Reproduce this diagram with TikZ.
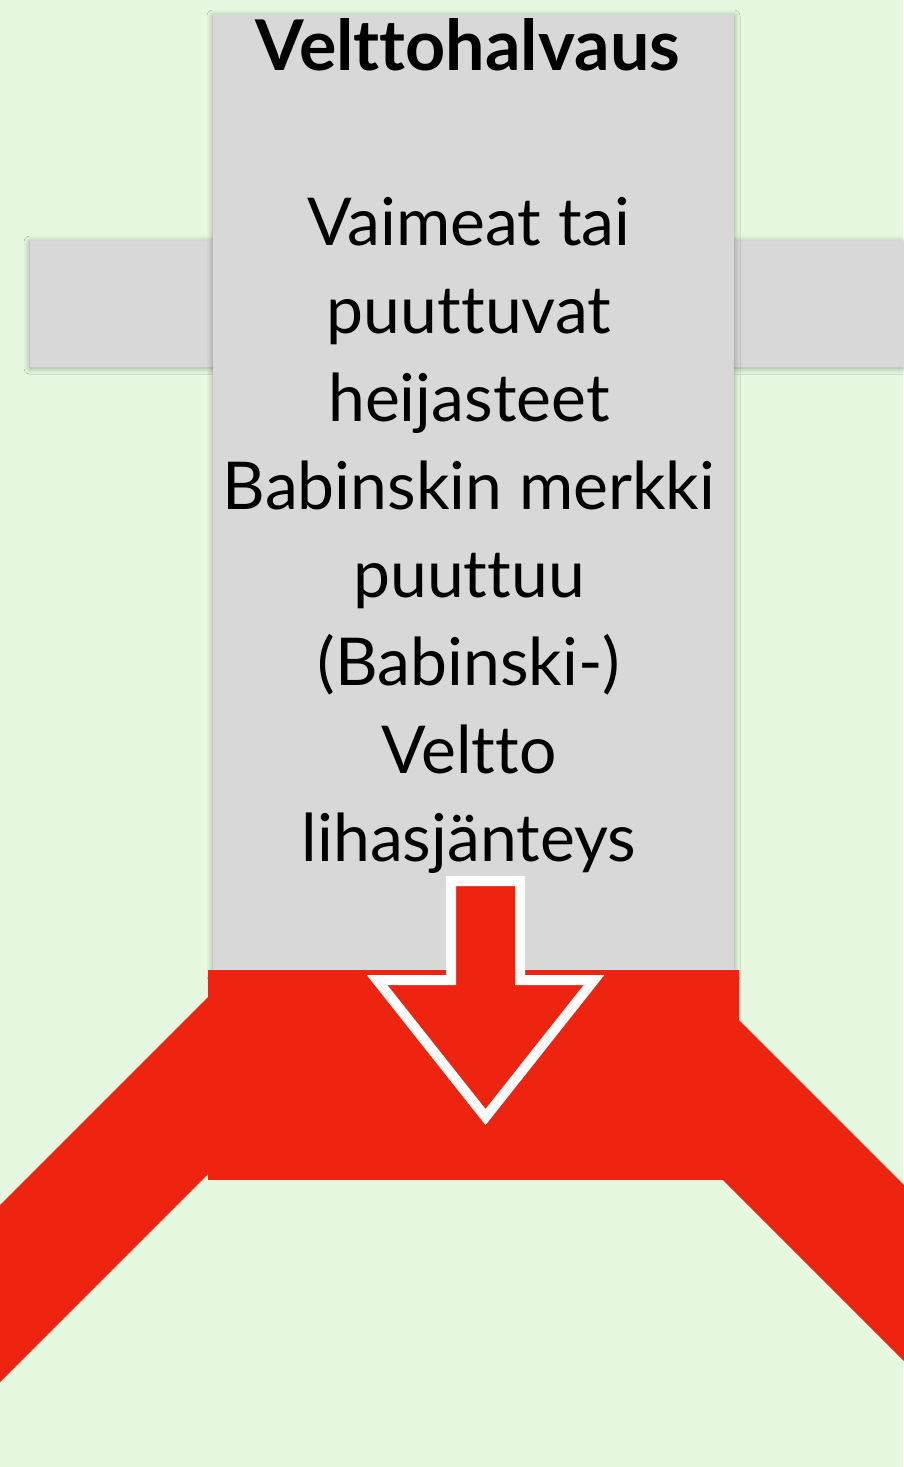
\documentclass[tikz,border=0pt]{standalone}
\usepackage{fontspec}
\setmainfont{Lato}[Ligatures=NoCommon]
\usetikzlibrary{shadows.blur}
\definecolor{bgGreen}{HTML}{E6F8E0}
\definecolor{boxGray}{HTML}{D8D8D8}
\definecolor{alarmRed}{HTML}{EF2410}
\tikzset{
  graybox/.style={fill=boxGray, inner sep=0pt, outer sep=0pt,
    blur shadow={shadow xshift=0pt, shadow yshift=-1pt, shadow blur radius=6pt, shadow opacity=35}},
  redbox/.style={fill=alarmRed, inner sep=0pt, outer sep=0pt},
  bodytext/.style={align=center, font=\fontsize{66}{88}\selectfont}
}

\begin{document}
\begin{tikzpicture}[x=1pt,y=-1pt]
			\fill[bgGreen] (0,0) rectangle (903,1467);
			\useasboundingbox (0,0) rectangle (903,1467);
			% side bars
			\node[graybox, minimum width=183, minimum height=126, anchor=north west] (leftbar) at (30,241) {};
			\node[graybox, minimum width=190, minimum height=126, anchor=north west] (rightbar) at (734,241) {};
			% main box
			\node[graybox, minimum width=521, minimum height=960, anchor=north west] (mainbox) at (213,15) {};
			\node[font=\fontsize{70}{70}\selectfont\bfseries] (title) at (468,45) {Velttohalvaus};
			\node[bodytext] (signs) at (469,535) {Vaimeat tai\\puuttuvat\\heijasteet\\Babinskin merkki\\puuttuu\\(Babinski-)\\Veltto\\lihasjänteys};
			% red legs
			\coordinate (lefttop) at (220,985);
			\coordinate (rightlow) at (710,1167);
			\fill[alarmRed] (lefttop) -- (-10,1215) -- (-10,1392) -- (220,1162) -- cycle;
			\fill[alarmRed] (730,1011) -- (913,1194) -- (913,1370) -- (rightlow) -- cycle;
			\node[redbox, minimum width=531, minimum height=210, anchor=north west] (redbase) at (208,970) {};
			% arrow
			\draw[white, fill=alarmRed, line width=10pt, line join=miter]
				(451,881) -- (520,881) -- (520,980) -- (594,980) -- (485.5,1117)
				-- (377,980) -- (451,980) -- cycle;
		\end{tikzpicture}
\end{document}
